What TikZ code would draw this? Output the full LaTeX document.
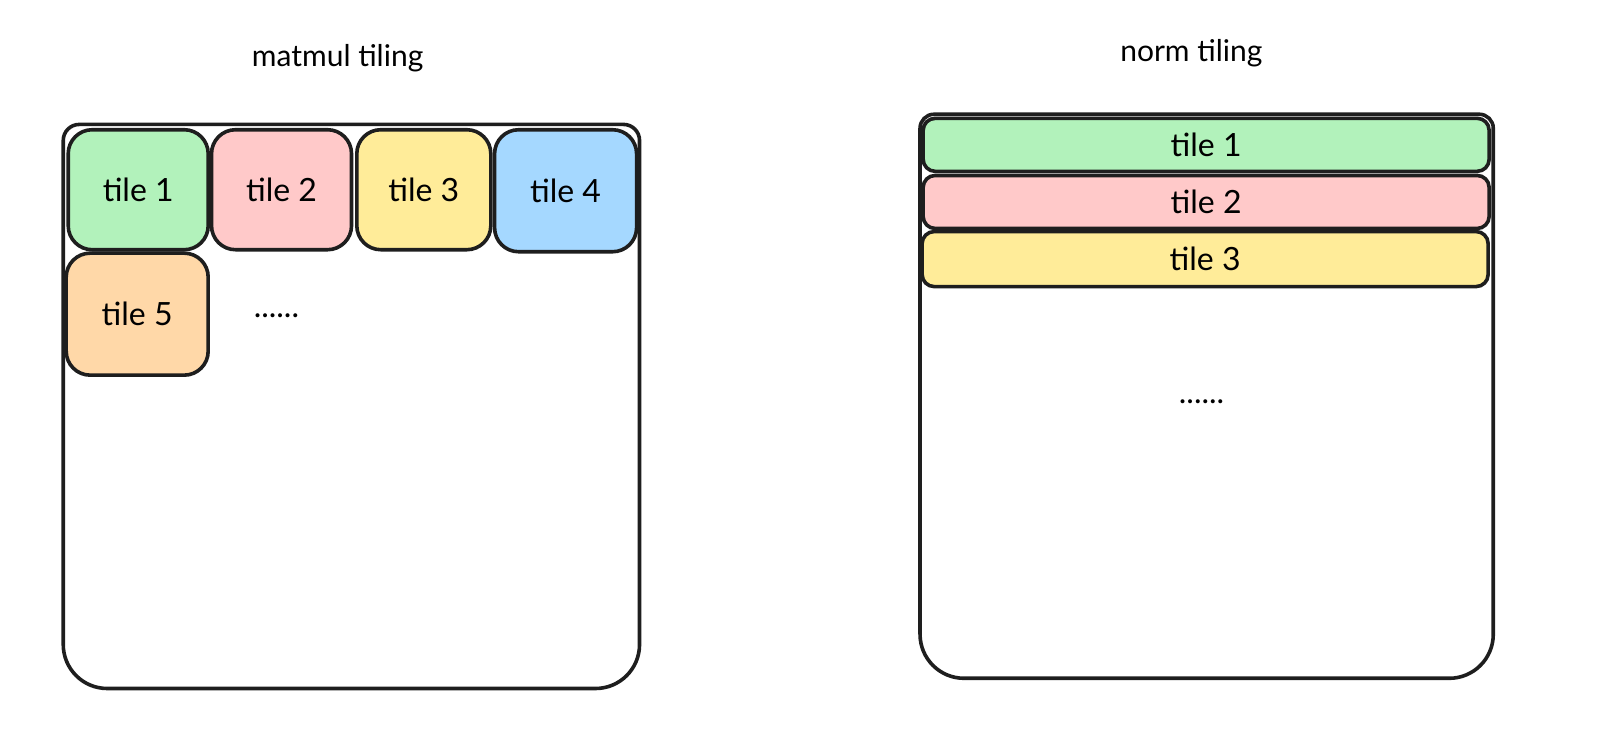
\documentclass[tikz,border=0pt]{standalone}
\usepackage{fontspec}
\setmainfont{Lato}
\usetikzlibrary{positioning}
\definecolor{tgreen}{HTML}{B2F2BB}
\definecolor{tpink}{HTML}{FFC9C9}
\definecolor{tyellow}{HTML}{FFEC99}
\definecolor{tblue}{HTML}{A5D8FF}
\definecolor{torange}{HTML}{FFD8A8}
\definecolor{ink}{HTML}{1E1E1E}
\begin{document}
\begin{tikzpicture}[x=0.51pt,y=-0.51pt,
  tilebox/.style={draw=ink,line width=1.8pt,rounded corners=12pt,inner sep=0pt,
                  font=\fontsize{16}{19}\selectfont},
  stripbox/.style={tilebox,rounded corners=6pt,minimum width=283pt},
  frame/.style={draw=ink,line width=1.8pt,fill=white},
  title/.style={font=\fontsize{15}{18}\selectfont}]
  \useasboundingbox (0pt,0pt) rectangle (800pt,-377pt);

  %Draw left frame and title
  \node[title] (mtitle) at (331,57) {matmul tiling};
  \draw[frame] (62,400) [rounded corners=8pt] -- (62,122) -- (627,122) -- (627,400)
        [rounded corners=22pt] -- (627,675) -- (62,675) -- cycle;

  %Draw square tiles
  \node[tilebox,fill=tgreen,minimum width=70pt,minimum height=60pt] (m1) at (135.5,186) {tile 1};
  \node[tilebox,fill=tpink,minimum width=70pt,minimum height=60pt] (m2) at (276,186) {tile 2};
  \node[tilebox,fill=tyellow,minimum width=67pt,minimum height=60pt] (m3) at (415.5,186) {tile 3};
  \node[tilebox,fill=tblue,minimum width=71pt,minimum height=61pt] (m4) at (554.5,187) {tile 4};
  \node[tilebox,fill=torange,minimum width=71pt,minimum height=61pt] (m5) at (134.5,308) {tile 5};
  \node[font=\fontsize{16}{19}\selectfont] (mdots) at (271,310) {......};

  %Draw right frame and title
  \node[title] (ntitle) at (1168,52) {norm tiling};
  \draw[frame] (902,400) [rounded corners=7pt] -- (902,112) -- (1464,112) -- (1464,400)
        [rounded corners=22pt] -- (1464,665) -- (902,665) -- cycle;

  %Draw row tiles
  \node[stripbox,fill=tgreen,minimum height=26.5pt] (n1) at (1182.5,142) {tile 1};
  \node[stripbox,fill=tpink,minimum height=26.5pt] (n2) at (1182.5,198) {tile 2};
  \node[stripbox,fill=tyellow,minimum height=27.5pt] (n3) at (1181.5,254) {tile 3};
  \node[font=\fontsize{16}{19}\selectfont] (ndots) at (1178,394) {......};
\end{tikzpicture}
\end{document}
